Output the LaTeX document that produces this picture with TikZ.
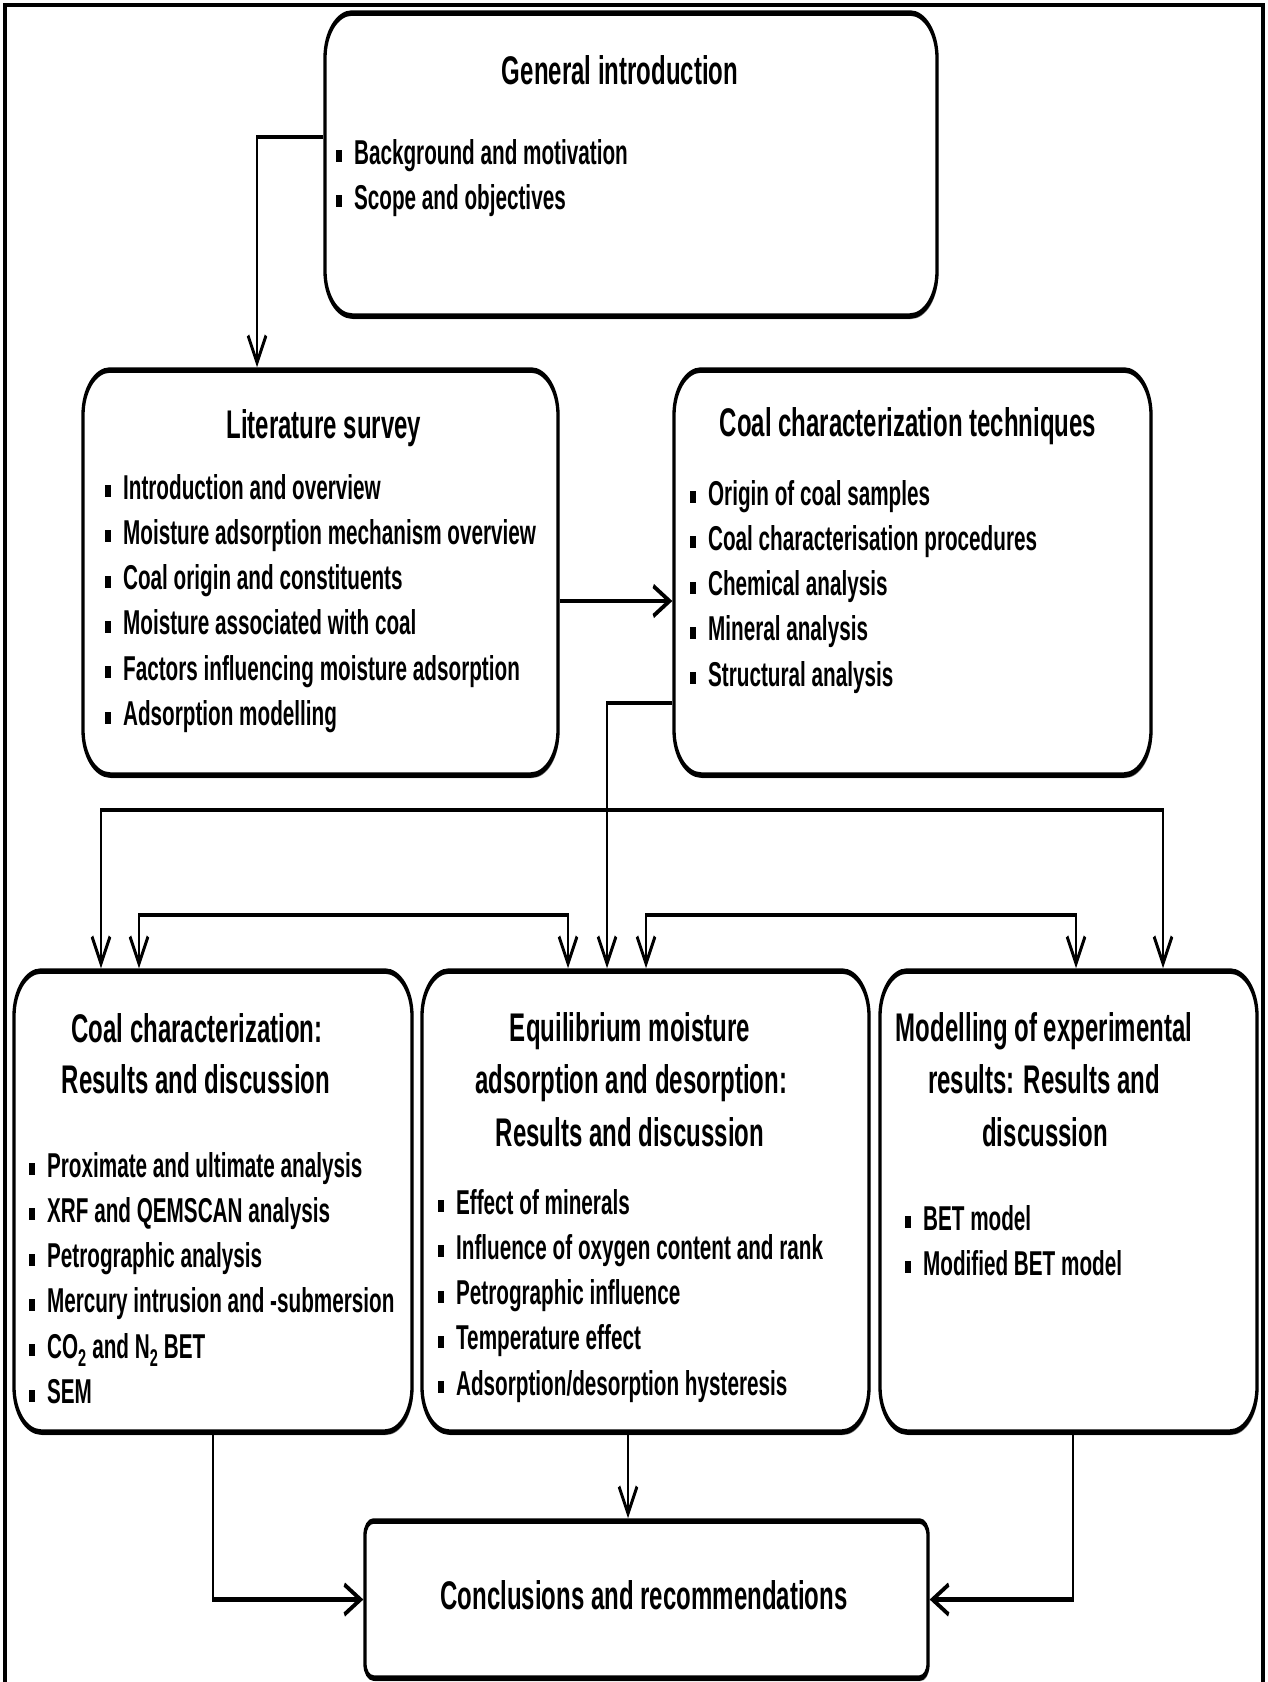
\documentclass[tikz,border=0pt]{standalone}
\usepackage{fontspec}
\setmainfont{Liberation Sans}
\usetikzlibrary{arrows.meta,fit,shadows}
\newcommand{\bul}{\makebox[30pt][l]{\rule[2pt]{10pt}{12pt}}}
\tikzset{
  box/.style={draw, line width=5.5pt, rounded corners=45pt, fill=white, inner sep=0pt,
    drop shadow={shadow xshift=2pt, shadow yshift=-3pt, fill=black!55, opacity=1}},
  ttl/.style={font=\fontsize{40}{48}\selectfont\bfseries, anchor=base, inner sep=0pt},
  itm/.style={font=\fontsize{34.5}{40}\selectfont\bfseries, anchor=base west, inner sep=0pt},
  conn/.style={line width=4.6pt},
  arr/.style={conn, -{Straight Barb[length=27pt,width=30pt]}},
  arrboth/.style={conn, {Straight Barb[length=27pt,width=30pt]}-{Straight Barb[length=27pt,width=30pt]}},
}
\begin{document}
\begin{tikzpicture}
\useasboundingbox (0,0) rectangle (1268pt,-1682pt);
\fill[white] (0,0) rectangle (1268pt,-1682pt);
\draw[line width=4.5pt] (5pt,-1700pt) -- (5pt,-5pt) -- (1263pt,-5pt) -- (1263pt,-1700pt);
\begin{scope}[overlay, x=1.6666667pt, y=-1pt, transform canvas={xscale=0.6}]
  % boxes
  \node[box, fit={(325,13) (937,316)}] (gi) {};
  \node[box, fit={(83,370) (558,775)}] (ls) {};
  \node[box, fit={(674,370) (1151,775)}] (cct) {};
  \node[box, fit={(14,971) (412,1432)}] (ccr) {};
  \node[box, fit={(422,971) (869,1432)}] (eq) {};
  \node[box, fit={(880,971) (1257,1432)}] (mod) {};
  \node[box, rounded corners=14pt, fit={(365,1521) (928,1678)}] (con) {};
  % titles
  \node[ttl] (gi-t) at (620,84) {General introduction};
  \node[ttl] (ls-t) at (324,438) {Literature survey};
  \node[ttl] (cct-t) at (908,436) {Coal characterization techniques};
  \node[ttl] (ccr-t1) at (197,1042) {Coal characterization:};
  \node[ttl] (ccr-t2) at (196,1093) {Results and discussion};
  \node[ttl] (eq-t1) at (630,1041) {Equilibrium moisture};
  \node[ttl] (eq-t2) at (631,1093) {adsorption and desorption:};
  \node[ttl] (eq-t3) at (630,1146) {Results and discussion};
  \node[ttl] (mod-t1) at (1044,1041) {Modelling of experimental};
  \node[ttl] (mod-t2) at (1044,1093) {results: Results and};
  \node[ttl] (mod-t3) at (1045,1146) {discussion};
  \node[ttl] (con-t) at (644,1609) {Conclusions and recommendations};
  % bullet lists
  \foreach \t [count=\i] in {Background and motivation, Scope and objectives}
    \node[itm] (gi-\i) at (336,{164+45.3*(\i-1)}) {\bul\t};
  \foreach \t [count=\i] in {Introduction and overview, Moisture adsorption mechanism overview,
      Coal origin and constituents, Moisture associated with coal,
      Factors influencing moisture adsorption, Adsorption modelling}
    \node[itm] (ls-\i) at (105,{499+45.3*(\i-1)}) {\bul\t};
  \foreach \t [count=\i] in {Origin of coal samples, Coal characterisation procedures,
      Chemical analysis, Mineral analysis, Structural analysis}
    \node[itm] (cct-\i) at (690,{505+45.3*(\i-1)}) {\bul\t};
  \foreach \t [count=\i] in {Proximate and ultimate analysis, XRF and QEMSCAN analysis,
      Petrographic analysis, Mercury intrusion and -submersion,
      {CO\textsubscript{2} and N\textsubscript{2} BET}, SEM}
    \node[itm] (ccr-\i) at (29,{1177+45.3*(\i-1)}) {\bul\t};
  \foreach \t [count=\i] in {Effect of minerals, Influence of oxygen content and rank,
      Petrographic influence, Temperature effect, Adsorption/desorption hysteresis}
    \node[itm] (eq-\i) at (438,{1214+45.3*(\i-1)}) {\bul\t};
  \foreach \t [count=\i] in {BET model, Modified BET model}
    \node[itm] (mod-\i) at (905,{1230+45.3*(\i-1)}) {\bul\t};
  % connectors
  \coordinate (a1) at (257,137);
  \draw[arr] (gi.west |- a1) -| (ls.north -| a1);
  \coordinate (a2) at (0,601);
  \draw[arr] (ls.east |- a2) -- (cct.west |- a2);
  \coordinate (a3) at (607,703);
  \draw[arr] (cct.west |- a3) -| (eq.north -| a3);
  \coordinate (a4) at (101,810);
  \coordinate (a5) at (1163,810);
  \draw[arrboth] (ccr.north -| a4) -- (a4) -- (a5) -- (mod.north -| a5);
  \coordinate (a6) at (139,915);
  \coordinate (a7) at (568,915);
  \draw[arrboth] (ccr.north -| a6) -- (a6) -- (a7) -- (eq.north -| a7);
  \coordinate (a8) at (646,915);
  \coordinate (a9) at (1076,915);
  \draw[arrboth] (eq.north -| a8) -- (a8) -- (a9) -- (mod.north -| a9);
  \coordinate (b1) at (213,0);
  \draw[arr] (ccr.south -| b1) |- (con.west);
  \coordinate (b2) at (628,0);
  \draw[arr] (eq.south -| b2) -- (con.north -| b2);
  \coordinate (b3) at (1073,0);
  \draw[arr] (mod.south -| b3) |- (con.east);
\end{scope}
\end{tikzpicture}
\end{document}
